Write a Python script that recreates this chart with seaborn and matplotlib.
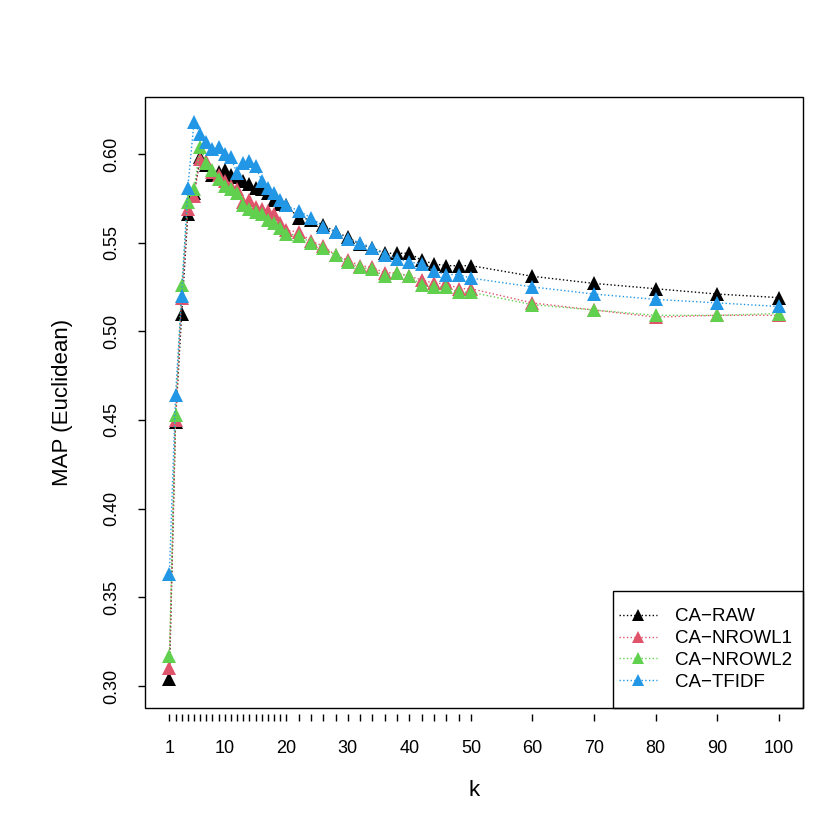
import matplotlib
matplotlib.use("Agg")
import matplotlib.pyplot as plt
from matplotlib.lines import Line2D
from matplotlib.patches import Rectangle
import seaborn as sns
import pandas as pd

# k values evaluated
k_values = list(range(1, 21)) + list(range(22, 51, 2)) + [60, 70, 80, 90, 100]

map_raw = [0.304, 0.449, 0.510, 0.566, 0.578, 0.598, 0.594, 0.588, 0.590, 0.591,
           0.588, 0.587, 0.585, 0.583, 0.581, 0.580, 0.578, 0.574, 0.572, 0.571,
           0.564, 0.563, 0.560, 0.556, 0.553, 0.549, 0.547, 0.544, 0.544, 0.544,
           0.540, 0.538, 0.537, 0.537, 0.537, 0.531, 0.527, 0.524, 0.521, 0.519]
map_nrowl1 = [0.310, 0.450, 0.519, 0.569, 0.576, 0.597, 0.596, 0.590, 0.588, 0.585,
              0.582, 0.580, 0.573, 0.574, 0.570, 0.569, 0.568, 0.566, 0.561, 0.557,
              0.556, 0.551, 0.548, 0.543, 0.540, 0.537, 0.536, 0.533, 0.533, 0.531,
              0.529, 0.527, 0.527, 0.524, 0.524, 0.516, 0.512, 0.508, 0.509, 0.509]
map_nrowl2 = [0.317, 0.453, 0.526, 0.573, 0.580, 0.604, 0.595, 0.591, 0.586, 0.582,
              0.580, 0.578, 0.571, 0.569, 0.567, 0.566, 0.563, 0.561, 0.558, 0.555,
              0.554, 0.550, 0.547, 0.543, 0.539, 0.536, 0.535, 0.531, 0.533, 0.531,
              0.526, 0.525, 0.525, 0.522, 0.522, 0.515, 0.512, 0.509, 0.509, 0.510]
map_tfidf = [0.363, 0.464, 0.520, 0.581, 0.618, 0.611, 0.607, 0.603, 0.604, 0.600,
             0.598, 0.589, 0.595, 0.596, 0.593, 0.585, 0.581, 0.578, 0.574, 0.571,
             0.568, 0.564, 0.559, 0.556, 0.552, 0.550, 0.547, 0.543, 0.541, 0.539,
             0.538, 0.534, 0.532, 0.532, 0.530, 0.525, 0.521, 0.518, 0.516, 0.514]

methods = ["CA\u2212RAW", "CA\u2212NROWL1", "CA\u2212NROWL2", "CA\u2212TFIDF"]
colors = ["#000000", "#DF536B", "#61D04F", "#2297E6"]
x_labels = [1, 10, 20, 30, 40, 50, 60, 70, 80, 90, 100]
y_ticks = [0.30, 0.35, 0.40, 0.45, 0.50, 0.55, 0.60]

rows = []
for name, vals in zip(methods, [map_raw, map_nrowl1, map_nrowl2, map_tfidf]):
    for k, v in zip(k_values, vals):
        rows.append({"k": k, "MAP": v, "method": name})
df = pd.DataFrame(rows)

sns.set_style("ticks")
plt.rcParams["font.family"] = ["Liberation Sans", "DejaVu Sans"]
plt.rcParams["text.color"] = "black"
plt.rcParams["axes.labelcolor"] = "black"
plt.rcParams["xtick.color"] = "black"
plt.rcParams["ytick.color"] = "black"

fig = plt.figure(figsize=(8.3, 8.3), dpi=100)
ax = fig.add_axes([145 / 830, 1 - 708 / 830, 658 / 830, 611 / 830])

sns.lineplot(data=df, x="k", y="MAP", hue="method", hue_order=methods,
             palette=colors, marker="^", markersize=10, markeredgewidth=0,
             linestyle=":", linewidth=1, legend=False, ax=ax)

ax.set_xlim(-2.96, 103.96)
ax.set_ylim(0.2876, 0.6321)

# R style axes: box plus detached x ticks
for s in ax.spines.values():
    s.set_visible(False)
ax.add_patch(Rectangle((0, 0), 1, 1, transform=ax.transAxes, fill=False,
                       edgecolor="black", linewidth=1, zorder=8, clip_on=False))
ax.spines["bottom"].set_position(("outward", 4))

ax.set_xticks(k_values)
ax.set_xticklabels([str(k) if k in x_labels else "" for k in k_values])
ax.set_yticks(y_ticks)
ax.set_yticklabels([f"{v:.2f}" for v in y_ticks], rotation=90, va="center")
ax.tick_params(axis="x", direction="out", length=5, width=1, pad=14, labelsize=13)
ax.tick_params(axis="y", direction="out", length=5, width=1, pad=13, labelsize=13)

ax.set_xlabel("k", fontsize=16)
ax.set_ylabel("MAP (Euclidean)", fontsize=16)
ax.xaxis.set_label_coords(0.5, -0.118)
ax.yaxis.set_label_coords(-0.109, 0.5)

# legend box drawn by hand, entries centred in it
ax.add_patch(Rectangle((0.7112, 0), 0.2888, 0.1915, transform=ax.transAxes,
                       facecolor="white", edgecolor="black", linewidth=1,
                       zorder=6, clip_on=False))
handles = [Line2D([], [], color=c, linestyle=":", linewidth=1, marker="^",
                  markersize=9, markeredgewidth=0) for c in colors]
leg = ax.legend(handles, methods, loc="center", bbox_to_anchor=(0.852, 0.0957),
                fontsize=13.5, frameon=False, borderpad=0, borderaxespad=0,
                handlelength=2.0, handletextpad=0.95, labelspacing=0.25)
leg.set_zorder(7)

fig.savefig("out.png", dpi=100)
